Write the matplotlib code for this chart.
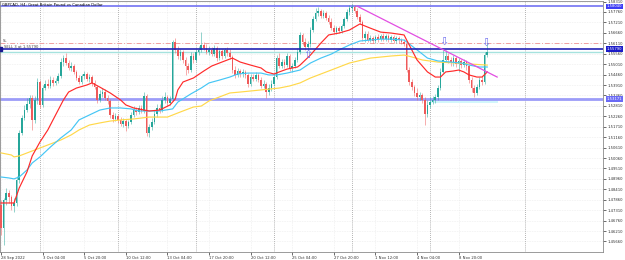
import numpy as np
import matplotlib.pyplot as plt
import matplotlib.transforms as mtransforms

# GBPCAD H4 candles (bar index 0 = 28 Sep 2022 12:00), open = previous close
first_open = 1.4759
closes = [1.4637, 1.4785, 1.4822, 1.4801, 1.4753, 1.4769, 1.4890, 1.5138, 1.5217, 1.5259,
          1.5291, 1.5323, 1.5207, 1.5312, 1.5407, 1.5286, 1.5375, 1.5396, 1.5386, 1.5417,
          1.5402, 1.5412, 1.5438, 1.5512, 1.5533, 1.5507, 1.5481, 1.5491, 1.5460, 1.5428,
          1.5407, 1.5438, 1.5449, 1.5423, 1.5433, 1.5402, 1.5380, 1.5312, 1.5344, 1.5354,
          1.5323, 1.5307, 1.5233, 1.5212, 1.5228, 1.5207, 1.5186, 1.5201, 1.5175, 1.5196,
          1.5233, 1.5259, 1.5249, 1.5270, 1.5254, 1.5333, 1.5138, 1.5170, 1.5196, 1.5238,
          1.5270, 1.5259, 1.5312, 1.5328, 1.5296, 1.5317, 1.5618, 1.5576, 1.5544, 1.5565,
          1.5523, 1.5491, 1.5470, 1.5544, 1.5523, 1.5565, 1.5576, 1.5602, 1.5586, 1.5565,
          1.5576, 1.5554, 1.5586, 1.5533, 1.5570, 1.5544, 1.5576, 1.5560, 1.5539, 1.5470,
          1.5444, 1.5465, 1.5449, 1.5460, 1.5444, 1.5396, 1.5433, 1.5423, 1.5444, 1.5417,
          1.5386, 1.5396, 1.5354, 1.5375, 1.5396, 1.5433, 1.5533, 1.5491, 1.5512, 1.5496,
          1.5544, 1.5481, 1.5491, 1.5523, 1.5565, 1.5655, 1.5618, 1.5591, 1.5607, 1.5681,
          1.5739, 1.5770, 1.5781, 1.5755, 1.5770, 1.5744, 1.5723, 1.5691, 1.5670, 1.5691,
          1.5676, 1.5702, 1.5739, 1.5776, 1.5797, 1.5802, 1.5781, 1.5749, 1.5723, 1.5639,
          1.5660, 1.5628, 1.5639, 1.5623, 1.5644, 1.5633, 1.5649, 1.5633, 1.5649, 1.5628,
          1.5644, 1.5623, 1.5639, 1.5628, 1.5618, 1.5607, 1.5470, 1.5407, 1.5380, 1.5349,
          1.5328, 1.5338, 1.5312, 1.5238, 1.5286, 1.5301, 1.5312, 1.5328, 1.5375, 1.5460,
          1.5523, 1.5544, 1.5523, 1.5512, 1.5533, 1.5502, 1.5518, 1.5496, 1.5512, 1.5491,
          1.5417, 1.5375, 1.5349, 1.5380, 1.5417, 1.5407, 1.5549, 1.5565]
highs = [1.4785, 1.4796, 1.4848, 1.4838, 1.4811, 1.4796, 1.4912, 1.5154, 1.5233, 1.5286,
         1.5323, 1.5338, 1.5338, 1.5333, 1.5428, 1.5417, 1.5391, 1.5417, 1.5423, 1.5438,
         1.5433, 1.5428, 1.5454, 1.5533, 1.5549, 1.5560, 1.5523, 1.5512, 1.5502, 1.5470,
         1.5444, 1.5449, 1.5465, 1.5460, 1.5449, 1.5444, 1.5417, 1.5391, 1.5365, 1.5375,
         1.5370, 1.5338, 1.5317, 1.5249, 1.5244, 1.5238, 1.5222, 1.5217, 1.5212, 1.5207,
         1.5249, 1.5280, 1.5275, 1.5286, 1.5286, 1.5354, 1.5344, 1.5186, 1.5217, 1.5259,
         1.5291, 1.5291, 1.5333, 1.5354, 1.5338, 1.5333, 1.5628, 1.5639, 1.5597, 1.5581,
         1.5576, 1.5539, 1.5507, 1.5565, 1.5560, 1.5581, 1.5597, 1.5670, 1.5618, 1.5607,
         1.5597, 1.5591, 1.5602, 1.5597, 1.5586, 1.5581, 1.5586, 1.5591, 1.5581, 1.5549,
         1.5491, 1.5481, 1.5475, 1.5475, 1.5470, 1.5454, 1.5449, 1.5449, 1.5460, 1.5454,
         1.5433, 1.5417, 1.5407, 1.5396, 1.5417, 1.5449, 1.5549, 1.5560, 1.5528, 1.5528,
         1.5560, 1.5554, 1.5507, 1.5539, 1.5586, 1.5670, 1.5665, 1.5639, 1.5623, 1.5697,
         1.5755, 1.5797, 1.5802, 1.5792, 1.5786, 1.5781, 1.5760, 1.5744, 1.5707, 1.5702,
         1.5702, 1.5713, 1.5749, 1.5792, 1.5813, 1.5818, 1.5813, 1.5797, 1.5765, 1.5734,
         1.5676, 1.5676, 1.5655, 1.5649, 1.5655, 1.5660, 1.5660, 1.5665, 1.5660, 1.5660,
         1.5655, 1.5655, 1.5649, 1.5649, 1.5639, 1.5633, 1.5618, 1.5486, 1.5423, 1.5391,
         1.5375, 1.5354, 1.5349, 1.5328, 1.5312, 1.5328, 1.5333, 1.5344, 1.5391, 1.5481,
         1.5576, 1.5576, 1.5560, 1.5539, 1.5549, 1.5544, 1.5533, 1.5528, 1.5528, 1.5523,
         1.5502, 1.5433, 1.5391, 1.5396, 1.5433, 1.5438, 1.5565, 1.5612]
lows = [1.4601, 1.4548, 1.4759, 1.4769, 1.4732, 1.4722, 1.4753, 1.4875, 1.5128, 1.5207,
        1.5249, 1.5270, 1.5154, 1.5191, 1.5291, 1.5270, 1.5275, 1.5365, 1.5375, 1.5375,
        1.5386, 1.5391, 1.5402, 1.5428, 1.5491, 1.5496, 1.5470, 1.5465, 1.5449, 1.5417,
        1.5396, 1.5396, 1.5423, 1.5412, 1.5407, 1.5386, 1.5370, 1.5296, 1.5301, 1.5328,
        1.5312, 1.5291, 1.5217, 1.5196, 1.5201, 1.5191, 1.5175, 1.5170, 1.5149, 1.5164,
        1.5186, 1.5222, 1.5233, 1.5238, 1.5244, 1.5244, 1.5122, 1.5117, 1.5154, 1.5186,
        1.5222, 1.5244, 1.5249, 1.5296, 1.5280, 1.5286, 1.5307, 1.5560, 1.5528, 1.5523,
        1.5507, 1.5444, 1.5454, 1.5460, 1.5507, 1.5512, 1.5549, 1.5565, 1.5576, 1.5554,
        1.5549, 1.5544, 1.5544, 1.5518, 1.5523, 1.5528, 1.5533, 1.5544, 1.5528, 1.5454,
        1.5428, 1.5433, 1.5433, 1.5433, 1.5428, 1.5380, 1.5386, 1.5412, 1.5412, 1.5407,
        1.5375, 1.5375, 1.5323, 1.5338, 1.5359, 1.5386, 1.5423, 1.5481, 1.5481, 1.5481,
        1.5486, 1.5465, 1.5460, 1.5481, 1.5512, 1.5554, 1.5602, 1.5576, 1.5576, 1.5591,
        1.5670, 1.5728, 1.5755, 1.5744, 1.5744, 1.5734, 1.5713, 1.5681, 1.5660, 1.5660,
        1.5665, 1.5665, 1.5691, 1.5728, 1.5760, 1.5776, 1.5770, 1.5739, 1.5713, 1.5623,
        1.5618, 1.5618, 1.5618, 1.5612, 1.5612, 1.5618, 1.5623, 1.5623, 1.5623, 1.5618,
        1.5618, 1.5612, 1.5612, 1.5612, 1.5607, 1.5597, 1.5460, 1.5391, 1.5365, 1.5333,
        1.5312, 1.5312, 1.5296, 1.5180, 1.5222, 1.5270, 1.5291, 1.5296, 1.5312, 1.5365,
        1.5454, 1.5512, 1.5507, 1.5491, 1.5491, 1.5486, 1.5460, 1.5481, 1.5486, 1.5470,
        1.5402, 1.5354, 1.5328, 1.5338, 1.5370, 1.5391, 1.5396, 1.5539]

# moving averages (bar index, price)
ma_fast_idx = [0, 5, 7, 10, 12, 15, 18, 20, 24, 26, 29, 33, 35, 38, 42, 46, 48, 51, 55, 57,
               61, 65, 67, 68, 70, 74, 78, 81, 84, 88, 89, 92, 96, 100, 102, 105, 107, 110,
               114, 115, 119, 123, 126, 130, 134, 138, 142, 146, 150, 155, 156, 160, 164,
               167, 169, 171, 174, 176, 178, 180, 183, 185, 187]
ma_fast = [1.4769, 1.4769, 1.4848, 1.4933, 1.5017, 1.5091, 1.5154, 1.5207, 1.5312, 1.5354,
           1.5375, 1.5391, 1.5402, 1.5380, 1.5349, 1.5312, 1.5286, 1.5270, 1.5259, 1.5254,
           1.5259, 1.5286, 1.5317, 1.5365, 1.5407, 1.5428, 1.5465, 1.5491, 1.5507, 1.5528,
           1.5533, 1.5512, 1.5496, 1.5481, 1.5460, 1.5449, 1.5460, 1.5475, 1.5486, 1.5496,
           1.5549, 1.5612, 1.5655, 1.5665, 1.5681, 1.5713, 1.5691, 1.5670, 1.5665, 1.5655,
           1.5628, 1.5523, 1.5460, 1.5433, 1.5433, 1.5460, 1.5465, 1.5470, 1.5460, 1.5444,
           1.5433, 1.5433, 1.5460]
ma_mid_idx = [0, 3, 5, 7, 10, 12, 15, 19, 23, 27, 30, 34, 38, 42, 46, 50, 53, 57, 61, 66,
              68, 73, 77, 80, 84, 88, 91, 95, 100, 103, 106, 110, 115, 119, 123, 127, 130,
              134, 138, 142, 146, 150, 155, 156, 160, 164, 168, 173, 177, 180, 184, 187]
ma_mid = [1.4906, 1.4901, 1.4896, 1.4906, 1.4943, 1.4980, 1.5012, 1.5064, 1.5112, 1.5154,
          1.5207, 1.5233, 1.5259, 1.5270, 1.5270, 1.5265, 1.5254, 1.5254, 1.5254, 1.5265,
          1.5301, 1.5344, 1.5375, 1.5402, 1.5417, 1.5433, 1.5449, 1.5454, 1.5454, 1.5444,
          1.5444, 1.5454, 1.5470, 1.5507, 1.5533, 1.5554, 1.5576, 1.5602, 1.5623, 1.5628,
          1.5633, 1.5633, 1.5628, 1.5618, 1.5576, 1.5533, 1.5518, 1.5512, 1.5507, 1.5496,
          1.5486, 1.5486]
ma_slow_idx = [0, 4, 5, 7, 11, 15, 19, 23, 27, 30, 34, 38, 42, 46, 51, 57, 64, 69, 74, 77,
               80, 84, 88, 92, 100, 107, 111, 115, 119, 127, 134, 142, 150, 155, 158, 162,
               168, 175, 180, 187]
ma_slow = [1.5033, 1.5022, 1.5012, 1.5017, 1.5038, 1.5059, 1.5080, 1.5101, 1.5128, 1.5154,
           1.5180, 1.5191, 1.5201, 1.5207, 1.5212, 1.5222, 1.5222, 1.5249, 1.5275, 1.5280,
           1.5307, 1.5328, 1.5349, 1.5354, 1.5365, 1.5375, 1.5386, 1.5402, 1.5428, 1.5470,
           1.5507, 1.5533, 1.5544, 1.5549, 1.5539, 1.5523, 1.5512, 1.5507, 1.5502, 1.5496]

# chart objects
level_top = 1.5805
level_sell = 1.5579
level_sl = 1.5612
level_bid = 1.5563
level_support = 1.5317
trend_idx = [136.9, 190.8]
trend_px = [1.5807, 1.5433]
box_idx = [165, 191.2]
box_px = [1.5296, 1.5312]
arrow_up = (118.1, 1.5549)
arrows_down = [(170.4, 1.5620), (186.5, 1.5614)]
separators = [15, 45, 75, 105, 135, 165, 201.5]

price_ticks = [1.58310 - 0.0055 * k for k in range(24)]
date_idx = [0, 16, 32, 48, 64, 80, 96, 112, 128, 144, 160, 176]
date_labels = ['28 Sep 2022', '3 Oct 04:00', '5 Oct 20:00', '10 Oct 12:00', '13 Oct 04:00',
               '17 Oct 20:00', '20 Oct 12:00', '25 Oct 04:00', '27 Oct 20:00', '1 Nov 12:00',
               '4 Nov 04:00', '8 Nov 20:00']

fs = 2.7
bull = '#26a69a'
bear = '#ef5a5a'

fig = plt.figure(figsize=(6.25, 2.6), dpi=100)
ax = fig.add_axes([0, 8 / 260, 603 / 625, 251 / 260])

# grid
for p in price_ticks:
    ax.axhline(p, color='#dcdcdc', lw=0.4, ls=(0, (1, 2)), zorder=0)
for d in date_idx:
    ax.axvline(d, color='#dcdcdc', lw=0.4, ls=(0, (1, 2)), zorder=0)
for s in separators:
    ax.axvline(s, color='#9a9a9a', lw=0.6, ls=(0, (1, 1.5)), zorder=0)

# candles
idx = np.arange(len(closes))
closes = np.array(closes)
opens = np.concatenate([[first_open], closes[:-1]])
highs = np.array(highs)
lows = np.array(lows)
cols = [bull if c >= o else bear for o, c in zip(opens, closes)]
ax.vlines(idx, lows, highs, colors=cols, lw=0.5, alpha=0.7, zorder=2)
body = np.maximum(np.abs(closes - opens), 0.00025)
ax.bar(idx, body, bottom=np.minimum(opens, closes), width=0.62, color=cols, lw=0, zorder=3)

# moving averages
ax.plot(ma_slow_idx, ma_slow, color='#ffd84a', lw=0.85, zorder=4)
ax.plot(ma_mid_idx, ma_mid, color='#45c6f5', lw=0.85, zorder=4)
ax.plot(ma_fast_idx, ma_fast, color='#ff2a2a', lw=0.85, zorder=5)

# horizontal levels and objects
ax.axhline(level_top, color='#7272f2', lw=1.2, zorder=1)
ax.axhline(level_sl, color='#f0a0a0', lw=0.7, ls=(0, (5, 2, 1, 2)), zorder=1)
ax.axhline(level_sell, color='#2424b4', lw=1.2, zorder=6)
ax.axhline(level_bid, color='#a6e2de', lw=1.0, zorder=1)
ax.fill_between(box_idx, box_px[0], box_px[1], color='#d2f6fb', lw=0, zorder=1)
ax.axhline(level_support, color='#9c9cf8', lw=2.0, zorder=1)
ax.plot(trend_idx, trend_px, color='#e24ee2', lw=0.9, zorder=6)
ax.plot([-0.4], [level_sell], marker='s', ms=2.5, color='#1a1a90', clip_on=False, zorder=7)

ax.text(arrow_up[0], arrow_up[1], '\u21e7', color='#6f6fee', fontsize=8, ha='center', va='center', zorder=7)
for ai, ap in arrows_down:
    ax.text(ai, ap, '\u21e9', color='#6f6fee', fontsize=8, ha='center', va='center', zorder=7)

ax.text(0.004, 0.993, 'GBPCAD, H4: Great Britain Pound vs Canadian Dollar', transform=ax.transAxes,
        fontsize=fs, va='top', ha='left')
ax.text(0.5, level_sl + 0.0009, 'SL', fontsize=fs, va='center', ha='left', color='#404040')
ax.text(1.0, level_sell + 0.0013, 'SELL 3 at 1.55790', fontsize=fs, va='center', ha='left', color='#404040')

# axes
ax.set_xlim(-0.385, 231.5)
ax.set_ylim(1.45105, 1.58340)
ax.yaxis.tick_right()
ax.set_yticks(price_ticks)
ax.set_yticklabels(['%.5f' % p for p in price_ticks])
ax.set_xticks(date_idx)
ax.set_xticklabels(date_labels)
for lab in ax.get_xticklabels():
    lab.set_ha('left')
ax.tick_params(axis='both', labelsize=fs, length=2, width=0.5, pad=1, colors='#303030')
for sp in ax.spines.values():
    sp.set_color('#8a8a8a')
    sp.set_linewidth(0.6)

# price labels on the right scale
tr = mtransforms.blended_transform_factory(ax.transAxes, ax.transData)
for p, txt, bg in [(level_top, '1.58040', '#3d3df5'), (level_sell, '1.55790', '#1c1cc8'),
                   (level_support, '1.53171', '#6a6af5')]:
    ax.text(1.006, p, txt, transform=tr, fontsize=fs, color='white', va='center', ha='left',
            bbox=dict(boxstyle='square,pad=0.25', fc=bg, ec='none'), clip_on=False, zorder=8)

fig.savefig('out.png', dpi=100)
